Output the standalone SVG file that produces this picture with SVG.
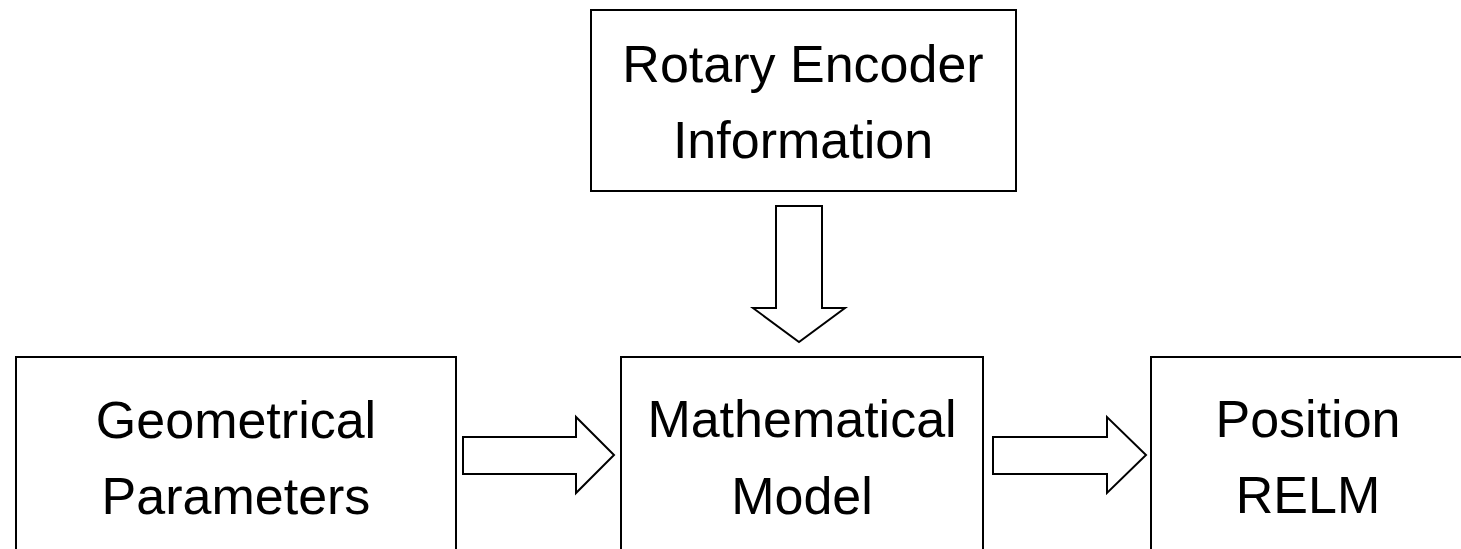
<svg xmlns="http://www.w3.org/2000/svg" width="1461" height="549" viewBox="0 0 1461 549">
  <style>
    .box { fill: #ffffff; stroke: #000000; stroke-width: 2; }
    .flow { fill: #ffffff; stroke: #000000; stroke-width: 2; stroke-linejoin: miter; }
    .label { font-family: "Liberation Sans", Arial, sans-serif; font-size: 52px; fill: #000000; text-anchor: middle; }
  </style>
  <rect width="1461" height="549" fill="#ffffff"/>

  <g id="rotary-encoder">
    <rect class="box" x="591" y="10" width="425" height="181"/>
    <text class="label" x="803" y="82">Rotary Encoder</text>
    <text class="label" x="803" y="158">Information</text>
  </g>

  <g id="geometrical-parameters">
    <rect class="box" x="16" y="357" width="440" height="210"/>
    <text class="label" x="236" y="438">Geometrical</text>
    <text class="label" x="236" y="514">Parameters</text>
  </g>

  <g id="mathematical-model">
    <rect class="box" x="621" y="357" width="362" height="210"/>
    <text class="label" x="802" y="437">Mathematical</text>
    <text class="label" x="802" y="514">Model</text>
  </g>

  <g id="position-relm">
    <rect class="box" x="1151" y="357" width="330" height="210"/>
    <text class="label" x="1308" y="437">Position</text>
    <text class="label" x="1308" y="513">RELM</text>
  </g>

  <g id="connectors">
    <!-- block arrow: encoder -> model -->
    <polygon class="flow" points="776,206 822,206 822,308 845,308 799,342 753,308 776,308"/>
    <!-- block arrow: parameters -> model -->
    <polygon class="flow" points="463,437 576,437 576,417 614,455 576,493 576,474 463,474"/>
    <!-- block arrow: model -> position -->
    <polygon class="flow" points="993,437 1107,437 1107,417 1146,455 1107,493 1107,474 993,474"/>
  </g>
</svg>
